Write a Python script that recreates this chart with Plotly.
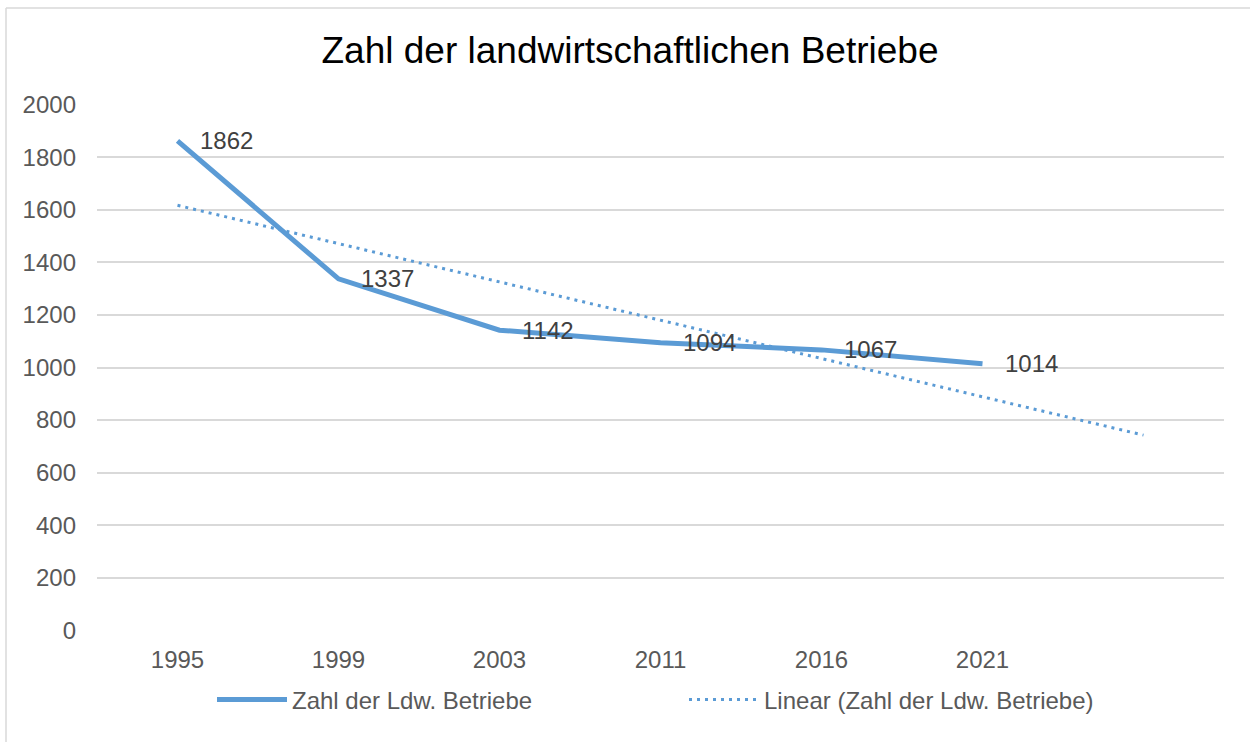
import numpy as np
import plotly.graph_objects as go

years = ["1995", "1999", "2003", "2011", "2016", "2021"]
betriebe = [1862, 1337, 1142, 1094, 1067, 1014]
y_ticks = [0, 200, 400, 600, 800, 1000, 1200, 1400, 1600, 1800, 2000]

title_text = "Zahl der landwirtschaftlichen Betriebe"
series_name = "Zahl der Ldw. Betriebe"
trend_name = "Linear (Zahl der Ldw. Betriebe)"

BLUE = "#5B9BD5"
GRID = "#D9D9D9"
FONT = "Liberation Sans, Arial, sans-serif"

idx = np.arange(len(years))
# linear trendline (least squares), extended one period forward
coef = np.polyfit(idx + 1, betriebe, 1)
trend_x = np.array([0, len(years)])
trend_y = np.polyval(coef, trend_x + 1)

W, H = 1250, 742
L, R, T, B = 97, 26, 104, 111
pw, ph = W - L - R, H - T - B

fig = go.Figure()
fig.add_trace(go.Scatter(
    x=idx, y=betriebe, mode="lines", name=series_name,
    line=dict(color=BLUE, width=5), hoverinfo="skip",
))
fig.add_trace(go.Scatter(
    x=trend_x, y=trend_y, mode="lines", name=trend_name,
    line=dict(color=BLUE, width=3, dash="3px,5px"), hoverinfo="skip",
))

annotations = []
for i, v in zip(idx, betriebe):
    annotations.append(dict(
        x=i, y=v, xref="x", yref="y", text=str(v), showarrow=False,
        xanchor="left", yanchor="middle", xshift=20,
        font=dict(family=FONT, size=24, color="#404040"),
    ))

# outer chart border (in paper coordinates computed from pixels)
def px2x(p):
    return (p - L) / pw

def py2y(p):
    return (H - B - p) / ph

shapes = [
    dict(type="line", xref="paper", yref="paper", x0=px2x(6), x1=px2x(1300),
         y0=py2y(8), y1=py2y(8), line=dict(color=GRID, width=1.5)),
    dict(type="line", xref="paper", yref="paper", x0=px2x(6), x1=px2x(6),
         y0=py2y(8), y1=py2y(800), line=dict(color=GRID, width=1.5)),
]

fig.update_layout(
    width=W, height=H,
    margin=dict(l=L, r=R, t=T, b=B, autoexpand=False),
    paper_bgcolor="white", plot_bgcolor="white",
    font=dict(family=FONT, size=24, color="#595959"),
    title=dict(text=title_text, x=0.504, xref="container", xanchor="center",
               y=1 - 50 / H, yref="container", yanchor="middle",
               font=dict(family=FONT, size=37, color="#000000")),
    xaxis=dict(range=[-0.5, 6.5], tickvals=list(idx), ticktext=years,
               showgrid=False, zeroline=False, showline=False, ticks="",
               ticklabelstandoff=12, fixedrange=True),
    yaxis=dict(range=[-2, 2002], tickvals=y_ticks, showgrid=True, gridcolor=GRID,
               gridwidth=1.5, zeroline=False, showline=False, ticks="",
               ticklabelstandoff=20, fixedrange=True),
    showlegend=True,
    legend=dict(orientation="h", x=px2x(212), xanchor="left", y=py2y(700),
                yanchor="middle", entrywidth=387, itemwidth=70,
                font=dict(family=FONT, size=24, color="#595959"),
                bgcolor="rgba(0,0,0,0)"),
    annotations=annotations,
    shapes=shapes,
)

fig.write_html("out.html", config={"displayModeBar": False},
               post_script="document.body.style.margin='0px';")
